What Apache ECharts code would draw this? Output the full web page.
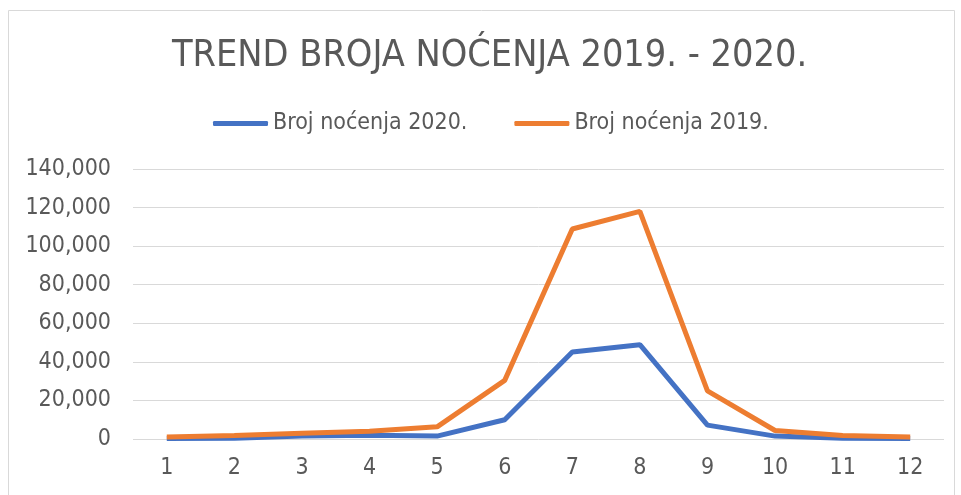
<!DOCTYPE html>
<html>
<head>
<meta charset="utf-8">
<script src="https://cdn.jsdelivr.net/npm/echarts@6/dist/echarts.min.js"></script>
<style>html,body{margin:0;padding:0;background:#fff}#c{width:961px;height:495px}</style>
</head>
<body>
<div id="c"></div>
<script>
const categories = ['1','2','3','4','5','6','7','8','9','10','11','12'];
const series2020 = [300, 400, 1500, 2000, 1500, 10000, 45100, 48900, 7200, 1500, 400, 200];
const series2019 = [1000, 1800, 3000, 4000, 6300, 30400, 108900, 118000, 25000, 4400, 1800, 1000];
const seriesNames = ['Broj noćenja 2020.', 'Broj noćenja 2019.'];
const titleText = 'TREND BROJA NOĆENJA 2019. - 2020.';

const chart = echarts.init(document.getElementById('c'));
const font = 'DejaVu Sans Condensed';
chart.setOption({
  animation: false,
  graphic: [{type:'rect', shape:{x:8.5, y:10.5, width:946, height:500}, style:{fill:'none', stroke:'#d9d9d9', lineWidth:1}, z:-1}],
  title: {text: titleText, left:167, top:32, textStyle:{fontFamily:font, fontSize:37.5, fontWeight:'normal', color:'#595959'}},
  legend: {top:107, left:208, itemWidth:55, itemHeight:5, itemGap:47, icon:'roundRect',
    textStyle:{fontFamily:font, fontSize:23, color:'#595959'}},
  grid: {left:133, right:17, top:169, bottom:56, containLabel:false},
  xAxis: {type:'category', data:categories, boundaryGap:true,
    axisLine:{show:false}, axisTick:{show:false},
    axisLabel:{fontFamily:font, fontSize:23, color:'#595959', margin:18}},
  yAxis: {type:'value', min:0, max:140000, interval:20000,
    axisLine:{show:false}, axisTick:{show:false},
    splitLine:{lineStyle:{color:'#d9d9d9', width:1}},
    axisLabel:{fontFamily:font, fontSize:23, color:'#595959', margin:22,
      formatter: v => v.toLocaleString('en-US')}},
  series: [
    {name:seriesNames[0], type:'line', data:series2020, symbol:'none', lineStyle:{color:'#4472C4', width:5}, itemStyle:{color:'#4472C4'}},
    {name:seriesNames[1], type:'line', data:series2019, symbol:'none', lineStyle:{color:'#ED7D31', width:5}, itemStyle:{color:'#ED7D31'}}
  ]
});
</script>
</body>
</html>
